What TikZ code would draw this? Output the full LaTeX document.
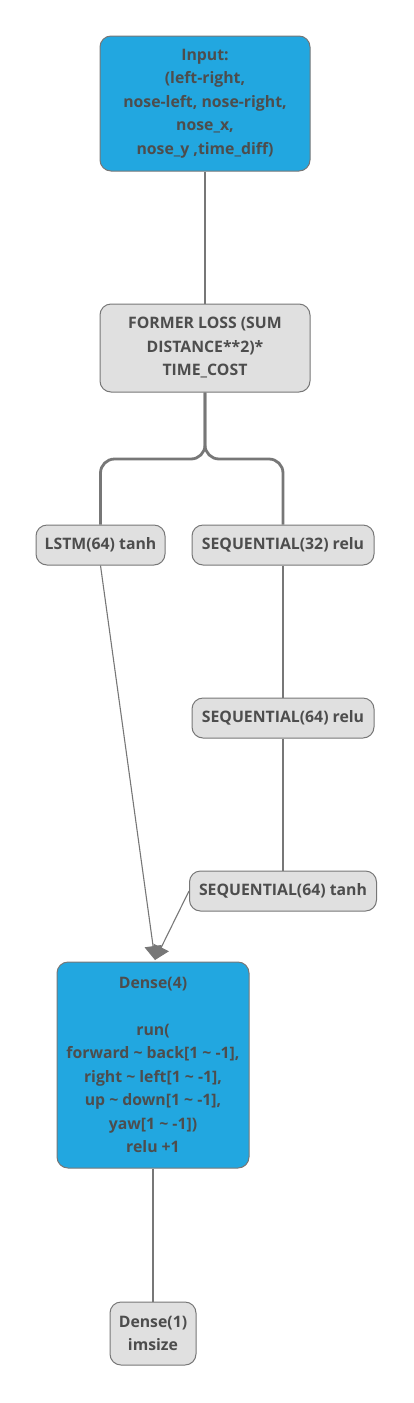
\documentclass[tikz,border=0pt]{standalone}
\usepackage{fontspec}
\setmainfont{Open Sans}
\usetikzlibrary{arrows.meta, positioning}
\definecolor{boxBlue}{HTML}{22A7E0}
\definecolor{boxGray}{HTML}{E0E0E0}
\definecolor{edgeGray}{HTML}{777777}
\definecolor{textGray}{HTML}{4D4D4D}
\tikzset{
    layer/.style={draw=edgeGray, line width=1pt, rounded corners=11pt, align=center,
        text=textGray, font=\fontsize{15.8}{23.5}\selectfont\bfseries, inner sep=0pt},
    blueLayer/.style={layer, fill=boxBlue},
    grayLayer/.style={layer, fill=boxGray},
    flow/.style={draw=edgeGray, line width=2.8pt, rounded corners=14pt},
    feed/.style={draw=edgeGray, line width=1.1pt, -{Triangle[width=17pt,length=14pt]}}
}
\begin{document}
\begin{tikzpicture}[x=1pt, y=-1pt]
    \useasboundingbox (0,0) rectangle (414,1403);

    \node[blueLayer, minimum width=210pt, minimum height=135pt] (input) at (205,103.5)
        {Input:\\(left-right,\\nose-left, nose-right,\\nose\_x,\\nose\_y ,time\_diff)};
    \node[grayLayer, minimum width=210pt, minimum height=88pt] (loss) at (205,348)
        {FORMER LOSS (SUM\\DISTANCE**2)*\\TIME\_COST};
    \node[grayLayer, minimum width=129pt, minimum height=40pt] (lstm) at (100.5,545) {LSTM(64) tanh};
    \node[grayLayer, minimum width=182pt, minimum height=40pt] (seqA) at (283,545) {SEQUENTIAL(32) relu};
    \node[grayLayer, minimum width=182pt, minimum height=40pt] (seqB) at (283,718) {SEQUENTIAL(64) relu};
    \node[grayLayer, minimum width=187pt, minimum height=40pt] (seqC) at (283,891) {SEQUENTIAL(64) tanh};
    \node[blueLayer, minimum width=192pt, minimum height=206pt] (denseA) at (153,1065)
        {Dense(4)\\[23.5pt]run(\\forward \textasciitilde{} back[1 \textasciitilde{} -1],\\right \textasciitilde{} left[1 \textasciitilde{} -1],\\up \textasciitilde{} down[1 \textasciitilde{} -1],\\yaw[1 \textasciitilde{} -1])\\relu +1};
    \node[grayLayer, minimum width=86pt, minimum height=63pt] (denseB) at (153,1333.5) {Dense(1)\\imsize};

    \coordinate (split) at (205,459);
    \coordinate (tip) at (155,960);

    \draw[flow] (input.south) -- (loss.north);
    \draw[flow] (loss.south) -- (split) -| (lstm.north);
    \draw[flow] (loss.south) -- (split) -| (seqA.north);
    \draw[flow] (seqA.south) -- (seqB.north);
    \draw[flow] (seqB.south) -- (seqC.north);
    \draw[flow] (denseA.south) -- (denseB.north);

    \draw[feed] (lstm.south) -- (tip);
    \draw[feed] (seqC.west) -- (tip);
\end{tikzpicture}
\end{document}
